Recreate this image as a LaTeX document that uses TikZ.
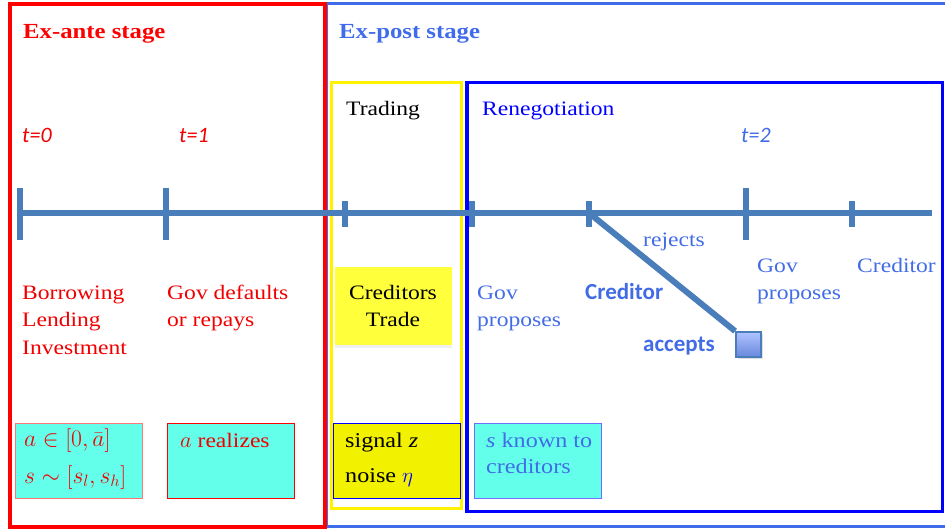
\RequirePackage{fix-cm}
\documentclass[tikz,border=0pt]{standalone}
\usepackage{fontspec}
\setmainfont{Liberation Serif}[FakeStretch=1.15]
\newfontfamily\calfont{Carlito}
\usetikzlibrary{shadows}
\definecolor{tline}{RGB}{74,126,187}
\definecolor{postblue}{RGB}{64,108,236}
\definecolor{txtblue}{RGB}{66,108,230}
\definecolor{deepblue}{RGB}{0,0,255}
\definecolor{aqua}{RGB}{100,255,235}
\definecolor{yel}{RGB}{242,242,0}
\definecolor{yelbright}{RGB}{255,255,60}
\definecolor{txtred}{RGB}{240,0,0}
\tikzset{
  lbl/.style={inner sep=0pt, anchor=base west, align=left, font=\fontsize{20.5}{27.5}\selectfont},
  head/.style={inner sep=0pt, anchor=base west, font=\fontsize{21.5}{26}\selectfont\bfseries},
  tlbl/.style={inner sep=0pt, anchor=base west, font=\calfont\fontsize{22}{26}\selectfont\itshape},
  blbl/.style={inner sep=0pt, anchor=base west, font=\calfont\fontsize{23}{26}\selectfont\bfseries, text=txtblue},
  infobox/.style={minimum width=127pt, minimum height=75pt, inner sep=0pt, line width=0.8pt},
  tick/.style={line width=5.5pt, draw=tline},
}
\begin{document}
\begin{tikzpicture}[x=1pt,y=-1pt]
\useasboundingbox (0,0) rectangle (945,531);
% stage frames
\draw[postblue, line width=3.5pt] (946,3.5) -- (326,3.5) -- (326,526.5) -- (946,526.5);
\draw[red, line width=4pt] (10,3.5) rectangle (325,526.5);
\draw[yellow, line width=3.5pt] (331.5,82.5) rectangle (461.5,508.5);
\draw[deepblue, line width=3.5pt] (467,82.5) rectangle (942.5,511.5);
% info boxes
\node[infobox, fill=aqua, draw={rgb,255:red,255;green,120;blue,120}] (box1) at (78.5,460.5) {};
\node[infobox, fill=aqua, draw=red] (box2) at (231,460.5) {};
\node[infobox, fill=yel, draw=deepblue] (box3) at (397,460.5) {};
\node[infobox, fill=aqua, draw={rgb,255:red,110;green,110;blue,255}] (box4) at (538,460.5) {};
\node[fill=yelbright, minimum width=117pt, minimum height=78pt, inner sep=0pt,
      drop shadow={opacity=0.12, shadow xshift=0pt, shadow yshift=-3pt}] (trade) at (393,306) {};
% timeline
\coordinate (tl0) at (18,213);
\coordinate (tl1) at (932,213);
\draw[tline, line width=6pt] (tl0) -- (tl1);
\foreach \x/\n in {20/k0,166/k1,746/k2} {
  \coordinate (\n) at (\x,213);
  \draw[tick] (\x,188) -- (\x,240);
}
\foreach \x/\n in {345/s1,472/s2,589/s3,852/s4} {
  \coordinate (\n) at (\x,213);
  \draw[tick] (\x,201) -- (\x,227);
}
% branch
\node[draw=tline, line width=1.8pt, minimum size=25pt, inner sep=0pt,
      top color={rgb,255:red,175;green,195;blue,255}, bottom color={rgb,255:red,105;green,135;blue,220},
      drop shadow={opacity=0.25}] (sq) at (748.5,344.5) {};
\draw[tline, line width=6pt] (s3) -- (sq.north west);
% headings
\node[head, text=red] (exante) at (23,38) {Ex-ante stage};
\node[head, text=postblue] (expost) at (339,38) {Ex-post stage};
\node[lbl] (trading) at (346,115) {Trading};
\node[lbl, text=deepblue] (reneg) at (482,115) {Renegotiation};
% times
\node[tlbl, text=txtred] (t0) at (22,142) {t=0};
\node[tlbl, text=txtred] (t1) at (179,142) {t=1};
\node[tlbl, text=txtblue] (t2) at (741,142) {t=2};
% events (multi-line nodes are placed by the baseline of their last line)
\node[lbl, text=txtred] (borrow) at (22,354) {Borrowing\\Lending\\Investment};
\node[lbl, text=txtred] (default) at (167,326.5) {Gov defaults\\or repays};
\node[lbl, align=center, anchor=base] (credtrade) at (393,326.5) {Creditors\\Trade};
\node[lbl, text=txtblue] (gov1) at (477,326.5) {Gov\\proposes};
\node[blbl] (cred1) at (585,299) {Creditor};
\node[lbl, text=txtblue] (rejects) at (643,246) {rejects};
\node[blbl] (accepts) at (643,351) {accepts};
\node[lbl, text=txtblue] (gov2) at (757,299.5) {Gov\\proposes};
\node[lbl, text=txtblue] (cred2) at (857,272) {Creditor};
% box texts
\node[inner sep=0pt, anchor=base west, align=left, text=txtred, scale=1.14,
      font=\fontsize{20.74}{31.6}\selectfont] (math1) at (24,483) {$a\in[0,\bar a]$\\$s\sim[s_l,s_h]$};
\node[lbl, text=txtred] (real) at (180,447) {\fontsize{22.5}{27}\selectfont$a$\fontsize{20.5}{27.5}\selectfont{} realizes};
\node[lbl, font=\fontsize{21}{35}\selectfont] (signal) at (345,482) {signal \textit{z}\\noise \textcolor{deepblue}{$\eta$}};
\node[lbl, text=txtblue, font=\fontsize{21}{26.5}\selectfont] (known) at (486,473.5) {\textit{s} known to\\creditors};
\end{tikzpicture}
\end{document}
